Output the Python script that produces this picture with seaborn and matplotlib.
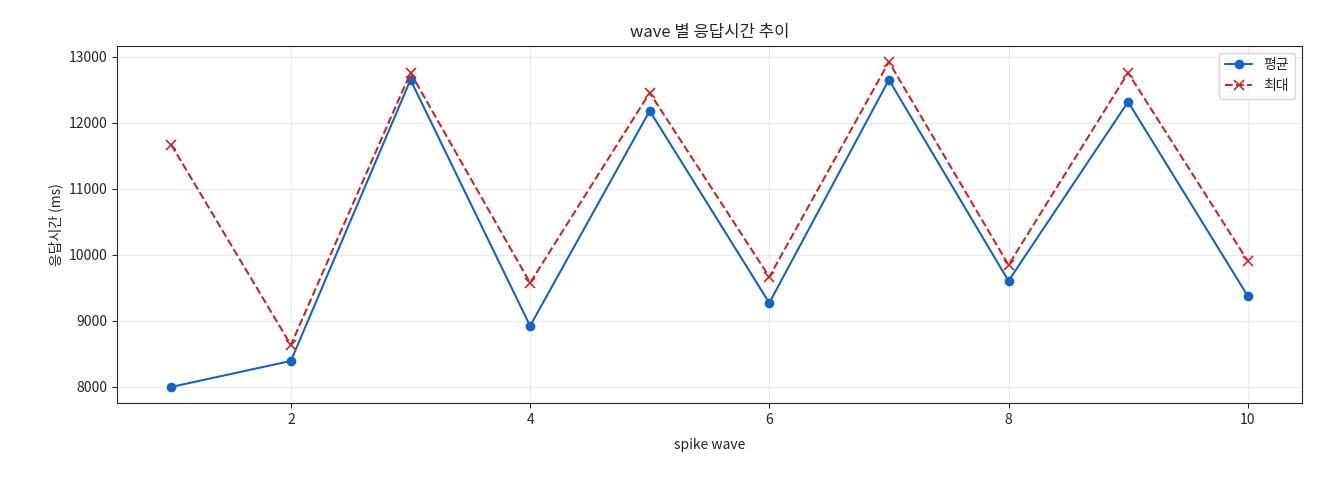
import numpy as np
import pandas as pd
import matplotlib
matplotlib.use("Agg")
import matplotlib.pyplot as plt
import seaborn as sns

waves = [1, 2, 3, 4, 5, 6, 7, 8, 9, 10]
avg_ms = [8000, 8394, 12652, 8924, 12182, 9273, 12652, 9606, 12318, 9379]
max_ms = [11667, 8636, 12758, 9576, 12455, 9667, 12924, 9848, 12758, 9909]

df = pd.DataFrame({"wave": waves, "avg": avg_ms, "max": max_ms})

sns.set_style("ticks")
plt.rcParams['font.family'] = ['Noto Sans CJK KR', 'DejaVu Sans']

fig, ax = plt.subplots(figsize=(13.2, 4.8), dpi=100)
sns.lineplot(data=df, x="wave", y="avg", ax=ax, color="#1565C0", marker="o",
             markersize=7, markeredgewidth=0, linewidth=1.5, label="평균")
sns.lineplot(data=df, x="wave", y="max", ax=ax, color="#C62828", marker="x",
             markersize=7, markeredgewidth=1.2, markeredgecolor="#C62828",
             linestyle="--", linewidth=1.5, label="최대")

ax.grid(True, alpha=0.4)
ax.set_title("wave 별 응답시간 추이", fontsize=12)
ax.set_xlabel("spike wave", fontsize=10, labelpad=8)
ax.set_ylabel("응답시간 (ms)", fontsize=10)
ax.tick_params(labelsize=10)
ax.legend(loc="upper right", fontsize=10)
fig.subplots_adjust(left=0.089, right=0.986, top=0.905, bottom=0.16)
fig.savefig("out.png")
